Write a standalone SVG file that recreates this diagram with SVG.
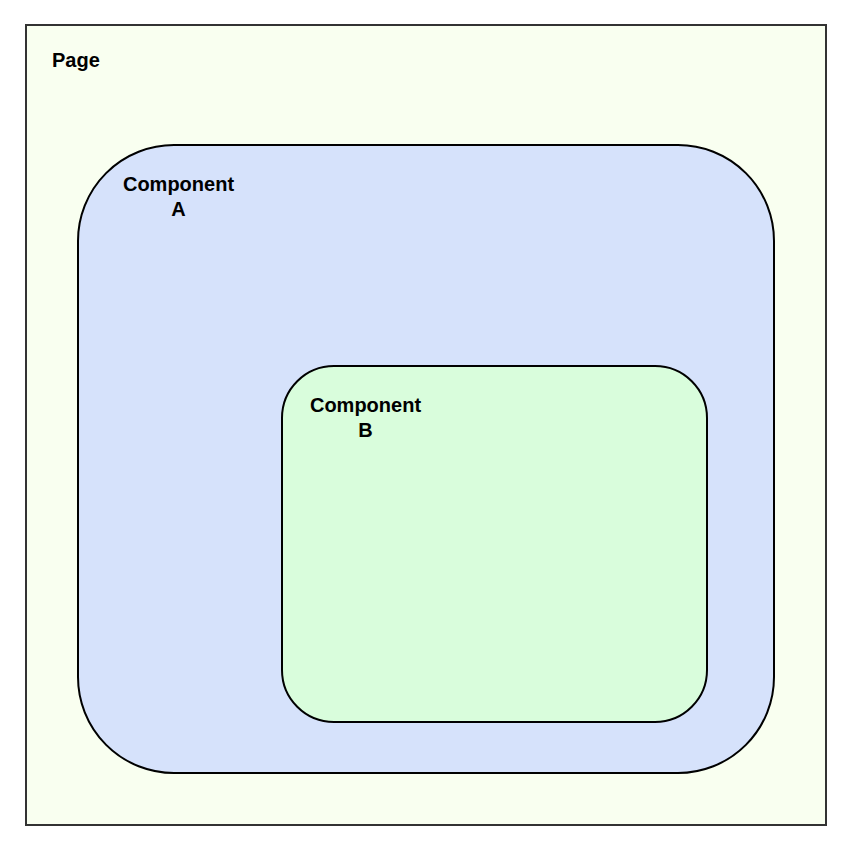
<svg xmlns="http://www.w3.org/2000/svg" width="854" height="846" viewBox="0 0 854 846">
<style>
.lbl{font-family:"Liberation Sans",Arial,sans-serif;font-weight:bold;font-size:20px;fill:#000}
.box{stroke:#000;stroke-width:2}
</style>
<rect width="854" height="846" fill="#fff"/>
<g id="page">
<rect x="26" y="25" width="800" height="800" fill="#f9fff0" stroke="#333" stroke-width="2"/>
<text class="lbl" x="52" y="67">Page</text>
</g>
<g id="componentA">
<rect class="box" x="78" y="145" width="696" height="628" rx="96" ry="96" fill="#d6e2fb"/>
<text class="lbl" x="178.5" y="191" text-anchor="middle">Component</text>
<text class="lbl" x="178.5" y="216" text-anchor="middle">A</text>
</g>
<g id="componentB">
<rect class="box" x="282" y="366" width="425" height="356" rx="52" ry="52" fill="#d9fddc"/>
<text class="lbl" x="365.5" y="412" text-anchor="middle">Component</text>
<text class="lbl" x="365.5" y="437" text-anchor="middle">B</text>
</g>
<g id="connectors"/>
</svg>
